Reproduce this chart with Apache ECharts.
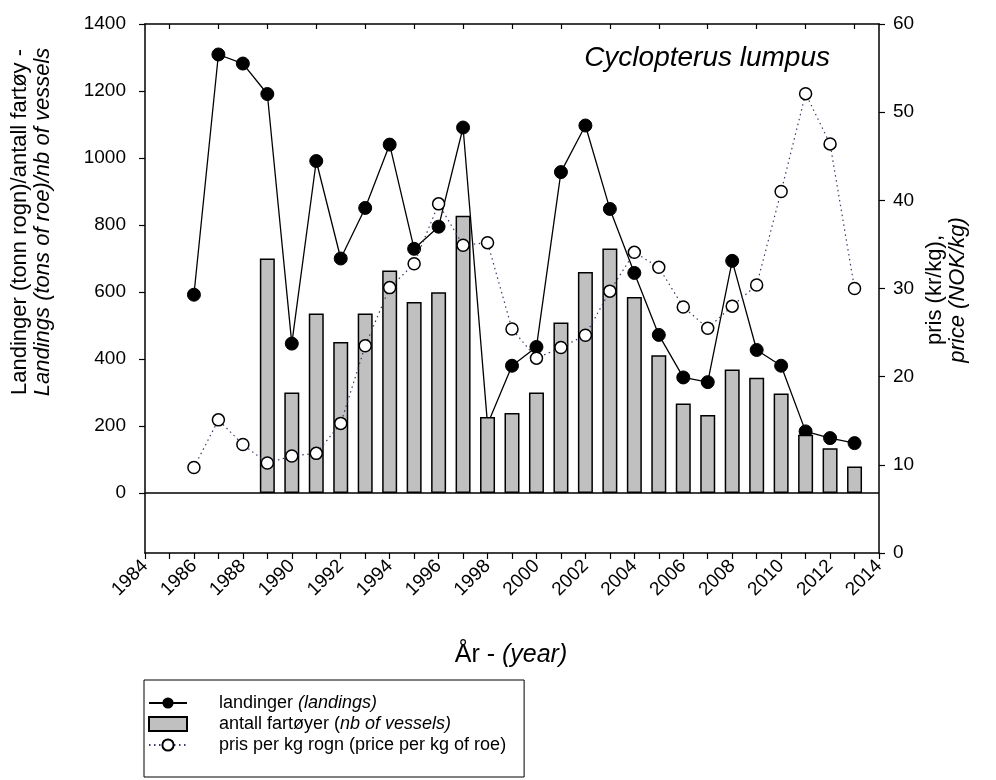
<!DOCTYPE html>
<html>
<head>
<meta charset="utf-8">
<script src="https://cdn.jsdelivr.net/npm/echarts@6/dist/echarts.min.js"></script>
<style>html,body{margin:0;padding:0;background:#fff}#c{width:996px;height:780px}</style>
</head>
<body>
<div id="c"></div>
<script>
// ---- data ----
const landingYears = [1986,1987,1988,1989,1990,1991,1992,1993,1994,1995,1996,1997,1998,1999,2000,2001,2002,2003,2004,2005,2006,2007,2008,2009,2010,2011,2012,2013];
const landings = [592,1309,1282,1191,446,991,700,851,1040,729,795,1091,205,380,436,958,1097,848,657,472,345,331,693,427,380,184,164,149];
const vesselYears = [1989,1990,1991,1992,1993,1994,1995,1996,1997,1998,1999,2000,2001,2002,2003,2004,2005,2006,2007,2008,2009,2010,2011,2012,2013];
const vessels = [700,300,536,451,536,664,570,599,828,227,239,300,509,660,730,585,411,267,233,369,344,297,174,134,79];
const priceYears = landingYears;
const price = [9.7,15.1,12.3,10.2,11.0,11.3,14.7,23.5,30.1,32.8,39.6,34.9,35.2,25.4,22.1,23.3,24.7,29.7,34.1,32.4,27.9,25.5,28.0,30.4,41.0,52.1,46.4,30.0];
const leftTicks = [0,200,400,600,800,1000,1200,1400];
const topTicks = [1985,1987,1989,1991,1993,1995,1997,1999,2001,2003,2005,2007,2009,2011,2013];

const FONT = '"Liberation Sans", Arial, sans-serif';
const pair = (xs, ys) => xs.map((x, i) => [x, ys[i]]);
const plain = v => String(v);

const chart = echarts.init(document.getElementById('c'), null, {renderer: 'canvas'});
chart.setOption({
  animation: false,
  backgroundColor: '#fff',
  textStyle: {fontFamily: FONT, color: '#000'},
  title: {
    text: 'Cyclopterus lumpus',
    right: 161, top: 39,
    textStyle: {fontFamily: FONT, fontStyle: 'italic', fontWeight: 'normal', fontSize: 28, color: '#000'}
  },
  grid: {left: 145, top: 24, width: 734, height: 529, containLabel: false},
  xAxis: [{
    type: 'value', position: 'bottom', min: 1984, max: 2014, interval: 2,
    axisLine: {show: true, onZero: false, lineStyle: {color: '#000', width: 1.5}},
    axisTick: {show: true, inside: false, length: 6, lineStyle: {color: '#000', width: 1.2}},
    minorTick: {show: true, splitNumber: 2, length: 6, lineStyle: {color: '#000', width: 1.2}},
    axisLabel: {rotate: 45, margin: 10, fontSize: 19, color: '#000', fontFamily: FONT, formatter: plain},
    splitLine: {show: false}
  }, {
    type: 'value', position: 'top', min: 1984, max: 2014,
    axisLine: {show: true, onZero: false, lineStyle: {color: '#000', width: 1.5}},
    axisTick: {show: true, inside: true, length: 5, customValues: topTicks, lineStyle: {color: '#000', width: 1.2}},
    axisLabel: {show: false},
    splitLine: {show: false}
  }],
  yAxis: [{
    type: 'value', position: 'left', min: -179, max: 1400,
    axisLine: {show: true, onZero: false, lineStyle: {color: '#000', width: 1.5}},
    axisTick: {show: true, inside: false, length: 6, customValues: leftTicks, lineStyle: {color: '#000', width: 1.2}},
    axisLabel: {customValues: leftTicks, margin: 19, fontSize: 19, color: '#000', fontFamily: FONT, formatter: plain},
    splitLine: {show: false}
  }, {
    type: 'value', position: 'right', min: 0, max: 60, interval: 10,
    axisLine: {show: true, onZero: false, lineStyle: {color: '#000', width: 1.5}},
    axisTick: {show: true, inside: false, length: 6, lineStyle: {color: '#000', width: 1.2}},
    axisLabel: {margin: 14, fontSize: 19, color: '#000', fontFamily: FONT, formatter: plain},
    splitLine: {show: false}
  }],
  legend: {
    orient: 'vertical', left: 144, top: 680,
    borderColor: '#000', borderWidth: 1,
    padding: [14, 18, 23, 4],
    itemWidth: 38, itemHeight: 14, itemGap: 3,
    selectedMode: false,
    data: [{name: 'landinger'}, {name: 'antall', icon: 'rect'}, {name: 'pris'}],
    formatter: function (name) {
      if (name === 'landinger') return '{f|landinger }{i|(landings)}';
      if (name === 'antall') return '{f|antall fartøyer (}{i|nb of vessels)}';
      return '{f|pris per kg rogn (price per kg of roe)}';
    },
    textStyle: {
      fontFamily: FONT, fontSize: 18, color: '#000', lineHeight: 18,
      rich: {
        f: {fontFamily: FONT, fontSize: 18, color: '#000', lineHeight: 18, padding: [0, 0, 0, 27]},
        i: {fontFamily: FONT, fontSize: 18, color: '#000', lineHeight: 18, fontStyle: 'italic'}
      }
    }
  },
  graphic: [
    {
      type: 'text', x: 31, y: 222, rotation: Math.PI / 2,
      style: {
        text: '{a|Landinger (tonn rogn)/antall fartøy -}\n{b|Landings (tons of roe)/nb of vessels}',
        align: 'center', verticalAlign: 'middle',
        rich: {
          a: {fontFamily: FONT, fontSize: 22, fill: '#000', lineHeight: 23},
          b: {fontFamily: FONT, fontSize: 22, fontStyle: 'italic', fill: '#000', lineHeight: 23}
        }
      }
    },
    {
      type: 'text', x: 946, y: 290, rotation: Math.PI / 2,
      style: {
        text: '{a|pris (kr/kg),}\n{b|price (NOK/kg)}',
        align: 'center', verticalAlign: 'middle',
        rich: {
          a: {fontFamily: FONT, fontSize: 22, fill: '#000', lineHeight: 23},
          b: {fontFamily: FONT, fontSize: 22, fontStyle: 'italic', fill: '#000', lineHeight: 23}
        }
      }
    },
    {
      type: 'text', x: 511, y: 655,
      style: {
        text: '{a|År - }{b|(year)}',
        align: 'center', verticalAlign: 'middle',
        rich: {
          a: {fontFamily: FONT, fontSize: 25, fill: '#000'},
          b: {fontFamily: FONT, fontSize: 25, fontStyle: 'italic', fill: '#000'}
        }
      }
    }
  ],
  series: [{
    name: 'landinger', type: 'line', xAxisIndex: 0, yAxisIndex: 0, z: 1,
    data: pair(landingYears, landings),
    symbol: 'circle', symbolSize: 13,
    lineStyle: {color: '#000', width: 1.3},
    itemStyle: {color: '#000', borderColor: '#000'}
  }, {
    name: 'antall', type: 'bar', xAxisIndex: 0, yAxisIndex: 0, z: 2,
    data: pair(vesselYears, vessels),
    barWidth: 15,
    itemStyle: {color: '#c0c0c0', borderColor: '#000', borderWidth: 1.5},
    markLine: {
      silent: true, symbol: 'none', label: {show: false},
      lineStyle: {color: '#000', width: 1.5, type: 'solid'},
      data: [{yAxis: 0}]
    }
  }, {
    name: 'pris', type: 'line', xAxisIndex: 0, yAxisIndex: 1, z: 3,
    data: pair(priceYears, price),
    symbol: 'circle', symbolSize: 12,
    lineStyle: {color: '#3a3a6a', width: 1.2, type: [1.5, 3.5]},
    itemStyle: {color: '#fff', borderColor: '#000', borderWidth: 1.5}
  }]
});
</script>
</body>
</html>
